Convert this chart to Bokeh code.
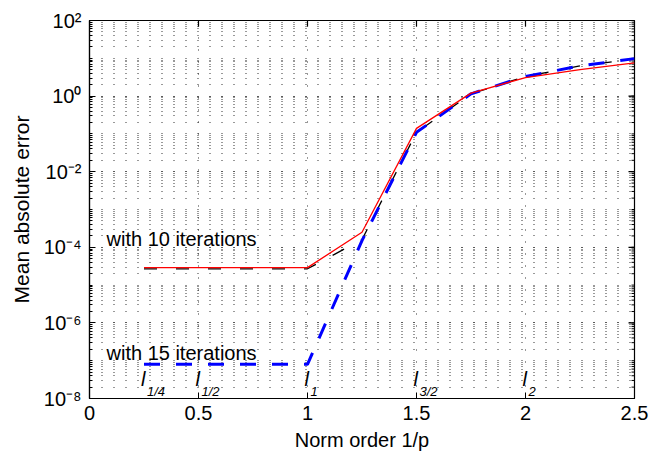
import math
from bokeh.plotting import figure
from bokeh.models import FixedTicker, CustomJSTickFormatter, Range1d
from bokeh.core.properties import value
from bokeh.embed import file_html
from bokeh.resources import INLINE

# ---- data ----
norm_order = [0.25, 0.5, 0.75, 1.0, 1.25, 1.5, 1.75, 2.0, 2.25, 2.5]
err_red = [2.9e-5, 2.9e-5, 2.9e-5, 2.9e-5, 2.5e-4, 0.14, 1.2, 3.1, 5.0, 7.6]
err_black = [2.7e-5, 2.7e-5, 2.7e-5, 2.7e-5, 1.6e-4, 0.11, 1.15, 3.3, 6.3, 9.5]
err_blue = [8e-8, 8e-8, 8e-8, 8e-8, 1.5e-4, 0.11, 1.15, 3.3, 6.3, 9.8]

x_ticks = [0, 0.5, 1, 1.5, 2, 2.5]
y_ticks = [1e-8, 1e-6, 1e-4, 1e-2, 1e0, 1e2]
y_minor = [k * 10.0 ** e for e in range(-8, 2) for k in range(1, 10)]

norm_x = [0.25, 0.5, 1.0, 1.5, 2.0]
norm_sub = ["1/4", "1/2", "1", "3/2", "2"]
note_x = [0.078, 0.078]
note_y = [1.65e-4, 1.6e-7]
note_text = ["with 10 iterations", "with 15 iterations"]

FONT = "Liberation Sans"
X0, X1 = 0, 2.5
Y0, Y1 = 1e-8, 1e2

p = figure(width=650, height=466, x_range=Range1d(X0, X1), y_range=Range1d(Y0, Y1),
           y_axis_type="log", output_backend="svg", toolbar_location=None,
           min_border_left=89, min_border_right=16, min_border_top=20, min_border_bottom=68)
p.background_fill_color = "white"
p.border_fill_color = "white"
p.outline_line_color = "black"
p.outline_line_width = 1.2

xt = FixedTicker(ticks=x_ticks, minor_ticks=[])
yt = FixedTicker(ticks=y_ticks, minor_ticks=y_minor)

p.xaxis.ticker = xt
p.yaxis.ticker = yt
p.xaxis.formatter = CustomJSTickFormatter(code="return tick.toString();")
p.yaxis.formatter = CustomJSTickFormatter(code="""
const sup = {'-':'\u207b','0':'\u2070','1':'\u00b9','2':'\u00b2','3':'\u00b3','4':'\u2074','5':'\u2075','6':'\u2076','7':'\u2077','8':'\u2078','9':'\u2079'};
const e = Math.round(Math.log10(tick)).toString();
let s = '';
for (const c of e) { s += sup[c]; }
return '10' + s;
""")

for ax in (p.xaxis[0], p.yaxis[0]):
    ax.major_label_text_font = FONT
    ax.major_label_text_font_size = "20px"
    ax.major_label_text_color = "black"
    ax.axis_label_text_font = FONT
    ax.axis_label_text_font_style = "normal"
    ax.axis_label_text_color = "black"
    ax.major_tick_in = 6
    ax.major_tick_out = 0
    ax.minor_tick_in = 3
    ax.minor_tick_out = 0
    ax.axis_line_color = "black"
    ax.axis_line_width = 1.2
    ax.major_tick_line_color = "black"
    ax.minor_tick_line_color = "black"

p.xaxis.axis_label = "Norm order 1/p"
p.yaxis.axis_label = "Mean absolute error"
p.xaxis.axis_label_text_font_size = "20px"
p.yaxis.axis_label_text_font_size = "21px"
p.xaxis.major_label_standoff = 7
p.xaxis.axis_label_standoff = 6
p.yaxis.major_label_standoff = 8
p.yaxis.axis_label_standoff = 8

p.xgrid.ticker = FixedTicker(ticks=[0.5, 1, 1.5, 2])
p.ygrid.ticker = yt
for g in (p.xgrid[0], p.ygrid[0]):
    g.grid_line_color = "black"
    g.grid_line_alpha = 0.8
    g.grid_line_dash = "1 11"
    g.grid_line_width = 1
p.ygrid.minor_grid_line_color = "black"
p.ygrid.minor_grid_line_alpha = 0.8
p.ygrid.minor_grid_line_dash = "1 11"
p.ygrid.minor_grid_line_width = 1

# inward ticks on the right and top edges (box on), half-clipped dash markers
p.scatter(x=[X1] * len(y_ticks), y=y_ticks, marker="dash", size=12, line_color="black", line_width=1.2)
p.scatter(x=[X1] * len(y_minor), y=y_minor, marker="dash", size=6, line_color="black", line_width=1)
p.scatter(x=x_ticks, y=[Y1] * len(x_ticks), marker="dash", angle=math.pi / 2, size=12,
          line_color="black", line_width=1.2)

p.line(norm_order, err_black, line_color="black", line_width=1.3, line_dash="13 19")
p.line(norm_order, err_blue, line_color="#0000ff", line_width=3, line_dash="16 16")
p.line(norm_order, err_red, line_color="#ff0000", line_width=1.3)

p.text(x=note_x, y=note_y, text=note_text, text_font=value(FONT), text_font_size="20px",
       text_color="black", text_baseline="alphabetic", text_align="left")

p.text(x=norm_x, y=[3.3e-8] * len(norm_x), text=["l"] * len(norm_x), text_font=value(FONT),
       text_font_size="20px", text_font_style="italic", text_color="black",
       text_baseline="alphabetic", text_align="left", x_offset=-3)
p.text(x=norm_x, y=[1.5e-8] * len(norm_x), text=norm_sub, text_font=value(FONT),
       text_font_size="13px", text_font_style="italic", text_color="black",
       text_baseline="alphabetic", text_align="left", x_offset=3)

open("out.html", "w").write(file_html(p, INLINE))
